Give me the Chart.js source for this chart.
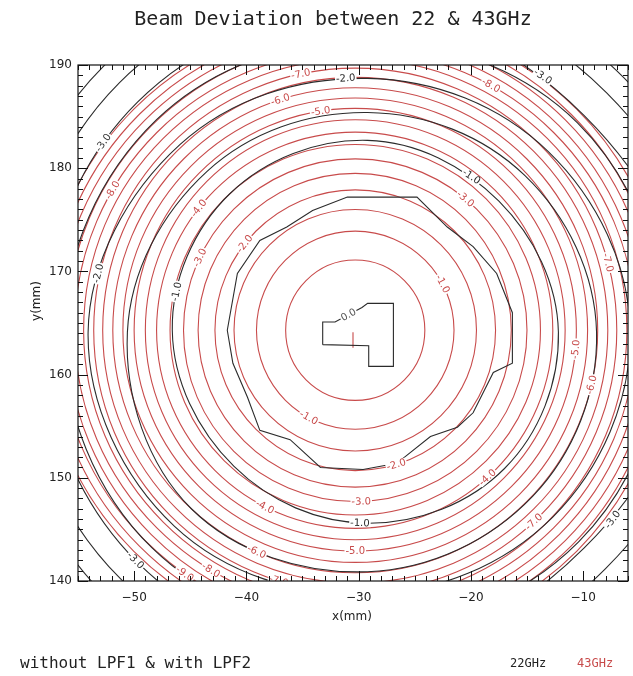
<!DOCTYPE html>
<html>
<head>
<meta charset="utf-8">
<script src="https://cdn.jsdelivr.net/npm/chart.js@4/dist/chart.umd.min.js"></script>
<style>
  html, body { margin: 0; padding: 0; background: #fff; }
</style>
</head>
<body>
<canvas id="chart" width="633" height="676"></canvas>
<script>
"use strict";

const xTickValues = [-50, -40, -30, -20, -10];
const yTickValues = [140, 150, 160, 170, 180, 190];

// 43GHz (red): rings every 0.5 dB, read as the crossing points with the
// horizontal / vertical lines through the beam centre (mm)
const redLevels = [-0.5, -1.0, -1.5, -2.0, -2.5, -3.0, -3.5, -4.0, -4.5, -5.0,
                   -5.5, -6.0, -6.5, -7.0, -7.5, -8.0, -8.5, -9.0, -9.5, -10.0];
const redCentre = [-30.3, 164.3];
const redWest  = [-36.5, -39.1, -41.1, -42.8, -44.3, -45.6, -46.8, -48.0, -49.0, -50.0,
                  -51.0, -51.9, -52.8, -53.6, -54.5, -55.3, -56.0, -56.8, -57.5, -58.2];
const redEast  = [-24.1, -21.5, -19.5, -17.8, -16.4, -15.0, -13.8, -12.7, -11.6, -10.6,
                  -9.6, -8.7, -7.8, -7.0, -6.1, -5.3, -4.6, -3.8, -3.1, -2.4];
const redNorth = [171.1, 173.9, 176.0, 177.9, 179.5, 180.9, 182.3, 183.5, 184.7, 185.8,
                  186.8, 187.8, 188.8, 189.7, 190.6, 191.4, 192.3, 193.1, 193.9, 194.6];
const redSouth = [157.5, 154.7, 152.6, 150.7, 149.1, 147.7, 146.4, 145.1, 144.0, 142.9,
                  141.8, 140.8, 139.8, 138.9, 138.0, 137.2, 136.3, 135.5, 134.7, 134.0];
const redPeak  = [[-30.5, 164.1], [-30.5, 162.6]];

// 22GHz (black): contour polylines, 0.5 dB apart
const blackLevels = [0.0, -0.5, -1.0, -1.5, -2.0, -2.5, -3.0, -3.5, -4.0];
const black00 = [[-33.2, 162.9], [-33.2, 165.1], [-32.1, 165.1], [-29.7, 166.5], [-29.2, 166.9],
                 [-26.9, 166.9], [-26.9, 160.8], [-29.1, 160.8], [-29.1, 162.8]];
const black05 = [[-41.7, 164.3], [-40.8, 169.8], [-38.8, 173.0], [-36.4, 174.3], [-34.1, 175.9],
                 [-31.0, 177.2], [-24.8, 177.2], [-22.1, 174.3], [-19.8, 172.4], [-17.7, 169.8],
                 [-16.3, 166.0], [-16.3, 161.1], [-18.0, 160.2], [-19.8, 156.3], [-21.2, 154.9],
                 [-23.6, 154.0], [-26.6, 151.4], [-29.6, 150.8], [-33.4, 151.0], [-36.1, 153.7],
                 [-38.8, 154.6], [-39.9, 157.8], [-41.2, 161.1]];
const black10 = [[-12.2, 164.1], [-17.5, 176.8], [-29.2, 182.7], [-41.5, 177.5],
                 [-46.6, 164.3], [-41.1, 151.1], [-29.2, 145.6], [-17.0, 150.9]];
const black15 = [[-8.8, 164.1], [-15.2, 179.3], [-29.2, 185.4], [-43.5, 179.7],
                 [-50.6, 164.1], [-44.9, 147.0], [-29.2, 140.9], [-14.5, 148.2]];
const black20 = [[-5.8, 164.1], [-13.1, 181.6], [-29.2, 188.7], [-45.9, 182.3],
                 [-54.1, 164.1], [-46.4, 145.3], [-29.2, 138.7], [-12.7, 146.2]];
const black25 = [[-2.9, 164.1], [-10.5, 184.4], [-29.2, 192.4], [-48.0, 184.7],
                 [-56.3, 164.1], [-48.4, 143.2], [-29.2, 135.3], [-10.4, 143.8]];
const black30 = [[-0.5, 164.1], [-9.9, 185.1], [-29.2, 195.3], [-49.7, 186.4],
                 [-58.1, 164.1], [-49.7, 141.8], [-29.2, 132.9], [-9.9, 143.2]];
const black35 = [[1.8, 164.1], [-7.9, 187.3], [-29.2, 197.8], [-51.3, 188.3],
                 [-60.2, 164.1], [-51.2, 140.2], [-29.2, 130.4], [-8.0, 141.2]];
const black40 = [[3.6, 164.1], [-6.4, 188.8], [-29.2, 199.8], [-52.8, 189.8],
                 [-62.0, 164.1], [-52.6, 138.6], [-29.2, 128.5], [-6.4, 139.4]];
const blackRings = [black00, black05, black10, black15, black20, black25, black30, black35, black40];

// where the contour annotations sit: [ring index, polar angle in degrees]
const redLabelSpots = [[1, 28], [1, 242], [3, 287], [3, 142], [5, 272], [5, 50], [5, 155],
                       [7, 312], [7, 142], [7, 243], [9, 270], [9, 99], [9, 355], [11, 108],
                       [11, 246], [11, 347], [13, 102], [13, 253], [13, 313], [13, 15],
                       [15, 61], [15, 150], [15, 239], [17, 235], [17, 346]];
const blackLabelSpots = [[2, 168], [2, 56], [2, 268], [4, 94], [4, 167],
                         [6, 144], [6, 55], [6, 225], [6, 323]];

const RED = "#c84b4b";
const BLACK = "#2b2b2b";

function redRing(k) {
  const [cx, cy] = redCentre;
  return [[redEast[k], cy], [cx, redNorth[k]], [redWest[k], cy], [cx, redSouth[k]]];
}

function contourDataset(pts, color, tension) {
  const p = pts.map(([x, y]) => ({ x, y }));
  const smooth = tension > 0;
  const data = smooth ? [p[p.length - 1], ...p, p[0], p[1]] : [...p, p[0]];
  const last = data.length - 1;
  return {
    data,
    borderColor: color,
    borderWidth: 1.1,
    pointRadius: 0,
    fill: false,
    tension,
    capBezierPoints: false,
    segment: smooth ? {
      borderColor: c => (c.p0DataIndex === 0 || c.p1DataIndex === last) ? "rgba(0,0,0,0)" : undefined
    } : undefined
  };
}

const datasets = [];
blackRings.forEach((pts, i) => datasets.push(contourDataset(pts, BLACK, i >= 2 ? 0.37 : 0)));
redLevels.forEach((lv, k) => datasets.push(contourDataset(redRing(k), RED, 0.552)));
datasets.push({
  data: redPeak.map(([x, y]) => ({ x, y })),
  borderColor: RED, borderWidth: 1.1, pointRadius: 0, fill: false
});

function pointOnRing(pts, deg) {
  const cx = pts.reduce((s, p) => s + p[0], 0) / pts.length;
  const cy = pts.reduce((s, p) => s + p[1], 0) / pts.length;
  const polar = pts.map(([px, py]) => ({
    a: (Math.atan2(cy - py, px - cx) * 180 / Math.PI + 360) % 360,
    r: Math.hypot(px - cx, py - cy)
  })).sort((p, q) => p.a - q.a);
  let r = polar[0].r;
  for (let i = 0; i < polar.length; i++) {
    const p = polar[i], q = polar[(i + 1) % polar.length];
    const qa = i + 1 < polar.length ? q.a : q.a + 360;
    let d = deg;
    if (d < p.a) d += 360;
    if (d >= p.a && d <= qa) {
      r = p.r + (d - p.a) / (qa - p.a) * (q.r - p.r);
      break;
    }
  }
  const phi = deg * Math.PI / 180;
  let rot = Math.atan2(-Math.cos(phi), -Math.sin(phi));
  if (rot > Math.PI / 2) rot -= Math.PI;
  if (rot <= -Math.PI / 2) rot += Math.PI;
  return { x: cx + r * Math.cos(phi), y: cy - r * Math.sin(phi), rot };
}

const decor = {
  id: "decor",
  afterDatasetsDraw(chart) {
    const { ctx, chartArea: a, scales: { x, y } } = chart;
    const toPx = pts => pts.map(([vx, vy]) => [x.getPixelForValue(vx), y.getPixelForValue(vy)]);

    ctx.save();
    ctx.beginPath();
    ctx.rect(a.left, a.top, a.right - a.left, a.bottom - a.top);
    ctx.clip();
    ctx.font = '10px "DejaVu Sans"';
    ctx.textAlign = "center";
    ctx.textBaseline = "middle";
    const put = (text, px, py, rot, color) => {
      const w = ctx.measureText(text).width;
      ctx.save();
      ctx.translate(px, py);
      ctx.rotate(rot);
      ctx.fillStyle = "#fff";
      ctx.fillRect(-w / 2 - 1, -4, w + 2, 8);
      ctx.fillStyle = color;
      ctx.fillText(text, 0, 0.5);
      ctx.restore();
    };
    redLabelSpots.forEach(([k, deg]) => {
      const p = pointOnRing(toPx(redRing(k)), deg);
      put(redLevels[k].toFixed(1), p.x, p.y, p.rot, RED);
    });
    blackLabelSpots.forEach(([k, deg]) => {
      const p = pointOnRing(toPx(blackRings[k]), deg);
      put(blackLevels[k].toFixed(1), p.x, p.y, p.rot, BLACK);
    });
    // label on the peak polygon
    const [p2, p3] = toPx([black00[2], black00[3]]);
    put(blackLevels[0].toFixed(1), (p2[0] + p3[0]) / 2, (p2[1] + p3[1]) / 2,
        Math.atan2(p3[1] - p2[1], p3[0] - p2[0]), "#555");
    ctx.restore();

    // box with inward ticks on all four sides
    ctx.save();
    ctx.strokeStyle = "#111";
    ctx.lineWidth = 1.2;
    ctx.strokeRect(a.left, a.top, a.right - a.left, a.bottom - a.top);
    ctx.lineWidth = 1;
    ctx.beginPath();
    for (let v = Math.ceil(x.min); v <= x.max; v++) {
      const px = Math.round(x.getPixelForValue(v)) + 0.5;
      const len = v % 10 === 0 ? 10 : 5;
      ctx.moveTo(px, a.bottom); ctx.lineTo(px, a.bottom - len);
      ctx.moveTo(px, a.top); ctx.lineTo(px, a.top + len);
    }
    for (let v = Math.ceil(y.min); v <= y.max; v++) {
      const py = Math.round(y.getPixelForValue(v)) + 0.5;
      const len = v % 10 === 0 ? 10 : 5;
      ctx.moveTo(a.left, py); ctx.lineTo(a.left + len, py);
      ctx.moveTo(a.right, py); ctx.lineTo(a.right - len, py);
    }
    ctx.stroke();
    ctx.restore();
  },
  afterDraw(chart) {
    const { ctx } = chart;
    ctx.save();
    ctx.fillStyle = "#222";
    ctx.textBaseline = "alphabetic";
    ctx.textAlign = "center";
    ctx.font = '20px "DejaVu Sans Mono"';
    ctx.fillText("Beam Deviation between 22 & 43GHz", 333, 25);
    ctx.font = '12px "DejaVu Sans"';
    ctx.textBaseline = "middle";
    ctx.fillText("x(mm)", 352, 617);
    ctx.save();
    ctx.translate(37, 301);
    ctx.rotate(-Math.PI / 2);
    ctx.fillText("y(mm)", 0, 0);
    ctx.restore();
    ctx.textBaseline = "alphabetic";
    ctx.textAlign = "left";
    ctx.font = '16px "DejaVu Sans Mono"';
    ctx.fillText("without LPF1 & with LPF2", 20, 668);
    ctx.font = '12px "DejaVu Sans Mono"';
    ctx.fillText("22GHz", 510, 667);
    ctx.fillStyle = RED;
    ctx.fillText("43GHz", 577, 667);
    ctx.restore();
  }
};

const tickFont = { family: "DejaVu Sans", size: 12 };

new Chart(document.getElementById("chart"), {
  type: "line",
  data: { datasets },
  options: {
    responsive: false,
    animation: false,
    events: [],
    layout: { padding: { top: 65, left: 0, right: 5, bottom: 0 } },
    plugins: { legend: { display: false }, tooltip: { enabled: false }, title: { display: false } },
    scales: {
      x: {
        type: "linear",
        min: -55,
        max: -6,
        grid: { display: false, drawTicks: false },
        border: { display: false },
        afterBuildTicks: s => { s.ticks = xTickValues.map(value => ({ value })); },
        afterFit: s => { s.height = 95; },
        ticks: {
          font: tickFont, color: "#222", padding: 10, maxRotation: 0, autoSkip: false,
          callback: v => String(v).replace("-", "\u2212")
        }
      },
      y: {
        type: "linear",
        min: 140,
        max: 190,
        grid: { display: false, drawTicks: false },
        border: { display: false },
        afterBuildTicks: s => { s.ticks = yTickValues.map(value => ({ value })); },
        afterFit: s => { s.width = 78; },
        ticks: { font: tickFont, color: "#222", padding: 6, autoSkip: false }
      }
    }
  },
  plugins: [decor]
});
</script>
</body>
</html>
